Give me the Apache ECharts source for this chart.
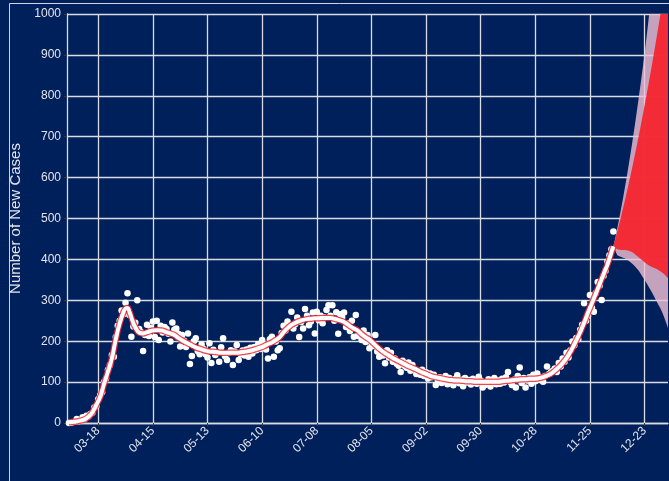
<!DOCTYPE html>
<html><head><meta charset="utf-8">
<script src="https://cdn.jsdelivr.net/npm/echarts@6/dist/echarts.min.js"></script>
<style>html,body{margin:0;padding:0;background:#00205B;overflow:hidden}#c{width:669px;height:481px}</style>
</head><body><div id="c"></div>
<script>
// x categories: one per day, first = 2020-03-02, last = 2021-01-05
const firstDay = '2020-03-02';
const dayCount = 309;
const tickLabels = ['03-18','04-15','05-13','06-10','07-08','08-05','09-02','09-30','10-28','11-25','12-23'];
const yTicks = [0,100,200,300,400,500,600,700,800,900,1000];

// observed daily new cases, one per day from 03-03 (category index 1) to 12-07
const observed = [
0,1,2,3,10,4,6,14,9,18,
16,22,25,38,41,58,68,75,100,108,
130,142,166,162,210,238,250,275,266,294,
317,264,211,236,245,300,230,222,176,215,
240,213,232,248,210,250,203,238,221,235,
230,218,199,246,228,231,218,187,215,201,
186,219,144,164,200,207,176,168,192,181,
168,160,195,147,179,166,172,150,185,207,
163,154,171,178,142,175,191,154,168,177,
165,180,162,184,170,186,178,193,181,203,
191,180,158,205,211,162,199,178,183,220,
238,226,248,236,272,231,242,258,210,247,
231,279,262,239,248,270,219,272,251,262,
244,258,276,288,262,288,250,271,218,266,
258,270,235,243,225,250,211,264,213,218,
203,226,198,215,183,196,188,215,175,162,
170,165,146,178,160,172,150,158,145,140,
125,152,140,135,148,128,142,132,120,127,
118,130,115,124,109,121,112,118,93,105,
112,98,104,115,95,110,101,92,108,117,
97,106,90,110,99,105,94,108,102,96,
113,104,87,92,100,107,89,98,110,95,
104,96,108,99,112,125,101,93,106,87,
115,136,98,110,87,104,112,96,118,102,
121,106,112,101,115,138,120,124,128,133,
125,147,138,158,150,172,160,178,199,190,
208,205,228,240,293,250,262,313,282,272,
318,345,336,301,360,372,395,410,425,468
];

// smoothed fit, read at selected days (day 0 = 03-03)
const fitDays = [0,3,6,8,10,12,14,16,18,20,22,24,26,28,29,30,31,32,33,34,35,36,38,40,42,44,46,48,50,52,54,56,58,60,62,64,66,68,70,72,74,76,78,80,82,84,86,88,90,92,94,96,98,100,102,104,106,108,110,112,114,116,118,120,122,124,126,128,130,132,134,136,138,140,142,144,146,148,150,152,154,156,158,160,162,164,166,168,170,172,174,176,178,180,182,184,186,188,190,192,194,196,198,200,202,204,206,208,210,212,214,216,218,220,222,224,226,228,230,232,234,236,238,240,242,244,246,248,250,252,254,256,258,260,262,264,266,268,270,272,274,276,278,279];
const fitVals = [2,3,6,9,15,26,44,64,96,126,158,205,244,272,280,281,272,258,244,234,226,221,219,222,225,227,227,226,222,219,215,208,202,197,192,187,183,180,177,175,174,173,172,172,172,172,172,173,174,176,178,181,184,188,193,197,203,210,222,232,240,245,249,252,254,255,256,256,257,257,257,255,252,249,244,237,231,226,217,210,204,195,186,178,171,165,159,154,149,144,139,135,131,126,122,118,114,112,110,108,106,105,104,104,103,102,102,101,101,101,101,101,101,101,102,103,104,105,106,107,107,108,108,109,111,114,118,124,132,141,152,166,183,202,222,245,270,293,316,340,364,388,417,432];

// forecast bands, one per day from day 279 (12-07) to day 307
const fcStartDay = 279;
const inner_low = [432,428,425,424,423,423,423,422,421,420,417,413,409,405,401,397,393,389,386,383,381,379,377,374,371,368,364,359,354];
const inner_high = [432,450,468,487,506,526,546,567,588,610,632,655,678,702,726,751,776,802,828,855,882,910,938,967,996,1026,1056,1087,1118];
const outer_low = [432,414,410,408,406,404,402,399,396,392,388,383,378,372,365,357,350,342,334,326,317,308,299,290,281,271,259,246,232];
const outer_high = [432,453,476,500,525,551,578,606,635,665,696,728,761,795,830,866,903,943,985,1029,1075,1122,1170,1219,1269,1320,1372,1425,1479];

// build categories
const cats = [];
{
  const t0 = Date.parse(firstDay + 'T00:00:00Z');
  for (let i = 0; i < dayCount; i++) {
    const d = new Date(t0 + i * 86400000);
    cats.push(String(d.getUTCMonth()+1).padStart(2,'0') + '-' + String(d.getUTCDate()).padStart(2,'0'));
  }
}
const tickSet = new Set(tickLabels);
const showTick = (idx, val) => tickSet.has(val);

const obsData = observed.map((v,i)=>[i+1, v]);
const fitData = fitDays.map((d,k)=>[d+1, fitVals[k]]);
const band = (lo, hi) => ({
  base: lo.map((v,k)=>[fcStartDay+1+k, v]),
  diff: hi.map((v,k)=>[fcStartDay+1+k, v - lo[k]])
});
const outerB = band(outer_low, outer_high);
const innerB = band(inner_low, inner_high);

const chart = echarts.init(document.getElementById('c'), null, {renderer:'canvas'});
const textCol = '#e4e4ea';
const gridCol = '#d9dce3';
chart.setOption({
  animation: false,
  backgroundColor: '#00205B',
  graphic: [{type:'rect', shape:{x:9.5,y:3.5,width:720,height:520}, style:{fill:'none', stroke:'#cfd3dc', lineWidth:1}, silent:true, z:-1}],
  grid: {left:66, right:1, top:14, bottom:58, containLabel:false},
  xAxis: {
    type:'category', data:cats, boundaryGap:false,
    axisLine:{show:true, lineStyle:{color:gridCol, width:1.3}},
    axisTick:{show:true, interval:showTick, length:3, lineStyle:{color:'#3b3b3b'}},
    axisLabel:{interval:showTick, rotate:45, color:textCol, fontSize:12, fontFamily:'Liberation Sans, Arial', margin:6},
    splitLine:{show:true, interval:showTick, lineStyle:{color:gridCol, width:1.3}}
  },
  yAxis: {
    type:'value', min:yTicks[0], max:yTicks[yTicks.length-1], interval:100,
    name:'Number of New Cases', nameLocation:'middle', nameGap:44,
    nameTextStyle:{color:textCol, fontSize:15, fontFamily:'Liberation Sans, Arial'},
    axisLine:{show:true, lineStyle:{color:gridCol, width:1.3}},
    axisTick:{show:true, length:3, lineStyle:{color:'#3b3b3b'}},
    axisLabel:{color:textCol, fontSize:12, fontFamily:'Liberation Sans, Arial', margin:6, formatter:(v)=>String(v)},
    splitLine:{show:true, lineStyle:{color:gridCol, width:1.3}}
  },
  series: [
    {type:'line', stack:'outer', data:outerB.base, symbol:'none', lineStyle:{width:0}, z:2},
    {type:'line', stack:'outer', data:outerB.diff, symbol:'none', lineStyle:{width:0}, areaStyle:{color:'#efc0d3', opacity:0.82}, z:2},
    {type:'line', stack:'inner', data:innerB.base, symbol:'none', lineStyle:{width:0}, z:3},
    {type:'line', stack:'inner', data:innerB.diff, symbol:'none', lineStyle:{width:0}, areaStyle:{color:'#f4252e', opacity:0.95}, z:3},
    {type:'scatter', data:obsData, symbolSize:6.5, itemStyle:{color:'#ffffff', opacity:1}, z:4},
    {type:'line', data:fitData, smooth:0.4, symbol:'none', lineStyle:{color:'#f0232d', width:6.5, opacity:0.85}, z:5},
    {type:'line', data:fitData, smooth:0.4, symbol:'none', lineStyle:{color:'#ffffff', width:4}, z:6}
  ]
});
</script></body></html>
